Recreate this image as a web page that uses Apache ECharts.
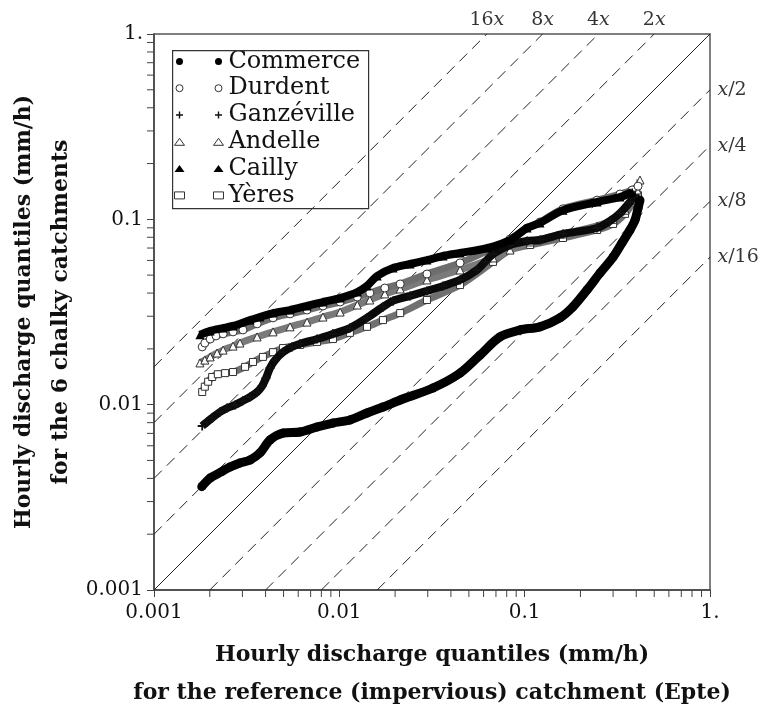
<!DOCTYPE html>
<html><head><meta charset="utf-8">
<script src="https://cdn.jsdelivr.net/npm/echarts@6/dist/echarts.min.js"></script>
<style>html,body{margin:0;padding:0;background:#fff}#main{width:762px;height:711px}</style>
</head><body><div id="main"></div>
<script>
// ---- data (x = Epte quantile, y = chalky catchment quantile, mm/h) ----
const commerce = [[0.00181,0.00361],[0.00201,0.00402],[0.00232,0.00435],[0.00257,0.00461],[0.00291,0.00485],[0.00330,0.00503],[0.00373,0.00549],[0.00423,0.00645],[0.00497,0.00703],[0.00614,0.00712],[0.00758,0.00758],[0.00924,0.00796],[0.0114,0.00827],[0.0141,0.00902],[0.0172,0.00971],[0.0213,0.0106],[0.0320,0.0123],[0.0448,0.0148],[0.0574,0.0185],[0.0736,0.0232],[0.0944,0.0253],[0.121,0.0263],[0.155,0.0294],[0.182,0.0337],[0.217,0.0416],[0.255,0.0513],[0.300,0.0626],[0.335,0.0746],[0.370,0.0876],[0.394,0.0992],[0.409,0.115],[0.419,0.127]];
const durdent = [[0.00182,0.0205],[0.00188,0.0215],[0.00201,0.0226],[0.00216,0.0235],[0.00236,0.0241],[0.00267,0.0247],[0.00302,0.0253],[0.00360,0.0273],[0.00439,0.0294],[0.00542,0.0309],[0.00669,0.0324],[0.00816,0.0341],[0.0101,0.0358],[0.0125,0.0381],[0.0146,0.0401],[0.0176,0.0426],[0.0213,0.0448],[0.0297,0.0507],[0.0448,0.0582],[0.0675,0.0700],[0.0834,0.0783],[0.103,0.0898],[0.121,0.0967],[0.161,0.114],[0.246,0.127],[0.327,0.137],[0.380,0.144],[0.409,0.151]];
const ganzeville = [[0.00182,0.00767],[0.00193,0.00806],[0.00206,0.00848],[0.00227,0.00913],[0.00248,0.00959],[0.00274,0.00996],[0.00302,0.0105],[0.00330,0.0110],[0.00360,0.0117],[0.00383,0.0126],[0.00402,0.0139],[0.00423,0.0158],[0.00450,0.0174],[0.00497,0.0192],[0.00555,0.0205],[0.00614,0.0213],[0.00758,0.0226],[0.00924,0.0241],[0.0114,0.0259],[0.0141,0.0294],[0.0172,0.0337],[0.0195,0.0363],[0.0241,0.0386],[0.0297,0.0411],[0.0363,0.0437],[0.0448,0.0471],[0.0553,0.0533],[0.0611,0.0589],[0.0675,0.0650],[0.0834,0.0727],[0.103,0.0764],[0.121,0.0774],[0.161,0.0834],[0.246,0.0898],[0.289,0.0980],[0.327,0.108],[0.370,0.124],[0.394,0.135]];
const andelle = [[0.00177,0.0168],[0.00188,0.0174],[0.00201,0.0181],[0.00219,0.0190],[0.00236,0.0197],[0.00267,0.0207],[0.00291,0.0215],[0.00360,0.0232],[0.00439,0.0247],[0.00542,0.0263],[0.00669,0.0279],[0.00816,0.0297],[0.0101,0.0316],[0.0125,0.0345],[0.0146,0.0367],[0.0176,0.0396],[0.0213,0.0421],[0.0297,0.0471],[0.0448,0.0533],[0.0675,0.0619],[0.0834,0.0683],[0.107,0.0755],[0.161,0.0834],[0.246,0.0921],[0.300,0.100],[0.348,0.112],[0.384,0.127],[0.404,0.144],[0.419,0.163]];
const cailly = [[0.00177,0.0238],[0.00201,0.0250],[0.00236,0.0259],[0.00267,0.0266],[0.00330,0.0286],[0.00373,0.0297],[0.00439,0.0312],[0.00542,0.0324],[0.00669,0.0341],[0.00816,0.0358],[0.0101,0.0376],[0.0125,0.0405],[0.0141,0.0437],[0.0160,0.0495],[0.0195,0.0546],[0.0241,0.0574],[0.0297,0.0603],[0.0363,0.0634],[0.0448,0.0658],[0.0626,0.0700],[0.0834,0.0774],[0.103,0.0898],[0.121,0.0956],[0.161,0.112],[0.246,0.124],[0.327,0.132],[0.380,0.140]];
const yeres = [[0.00182,0.0117],[0.00188,0.0125],[0.00196,0.0133],[0.00206,0.0141],[0.00221,0.0146],[0.00242,0.0148],[0.00267,0.0150],[0.00310,0.0160],[0.00342,0.0170],[0.00387,0.0181],[0.00439,0.0192],[0.00497,0.0202],[0.00614,0.0210],[0.00758,0.0218],[0.00924,0.0226],[0.0114,0.0244],[0.0141,0.0263],[0.0172,0.0286],[0.0213,0.0312],[0.0297,0.0367],[0.0448,0.0442],[0.0675,0.0589],[0.0834,0.0683],[0.107,0.0727],[0.161,0.0793],[0.246,0.0876],[0.300,0.0944],[0.348,0.107],[0.384,0.123],[0.409,0.135]];

const seriesNames = ['Commerce', 'Durdent', 'Ganzéville', 'Andelle', 'Cailly', 'Yères'];
const refRatios = [2, 4, 8, 16];
const majorTickValues = [0.001, 0.01, 0.1, 1];
const majorTickLabels = ['0.001', '0.01', '0.1', '1.'];
const minorTickValues = [0.002,0.003,0.004,0.005,0.006,0.007,0.008,0.009,0.02,0.03,0.04,0.05,0.06,0.07,0.08,0.09,0.2,0.3,0.4,0.5,0.6,0.7,0.8,0.9];
const xTitle = 'Hourly discharge quantiles (mm/h)\nfor the reference (impervious) catchment (Epte)';
const yTitle = 'Hourly discharge quantiles (mm/h)\nfor the 6 chalky catchments';

// ---- styling ----
const FONT = 'DejaVu Serif';
const AXMIN = 0.001, AXMAX = 1;
const PLUS = 'path://M4,0h2v4h4v2h-4v4h-2v-4h-4v-2h4z';
const styleMap = {
  'Commerce':   {data: commerce,   symbol: 'circle',   size: 9, line: '#000', width: 9, fill: '#000', border: '#000', z: 6},
  'Durdent':    {data: durdent,    symbol: 'circle',   size: 8, line: '#6e6e6e', width: 7, fill: '#fff', border: '#333', z: 3},
  'Ganzéville': {data: ganzeville, symbol: PLUS,       size: 9, line: '#0a0a0a', width: 8, fill: '#111', border: '#111', z: 4},
  'Andelle':    {data: andelle,    symbol: 'triangle', size: 8, line: '#7a7a7a', width: 7, fill: '#fff', border: '#333', z: 2},
  'Cailly':     {data: cailly,     symbol: 'triangle', size: 9, line: '#000', width: 8, fill: '#000', border: '#000', z: 5},
  'Yères':      {data: yeres,      symbol: 'rect',     size: 7, line: '#707070', width: 7, fill: '#fff', border: '#333', z: 1}
};

function tickLabel(v) {
  const lg = Math.round(Math.log10(v));
  const i = majorTickValues.findIndex(t => Math.round(Math.log10(t)) === lg);
  return i >= 0 ? majorTickLabels[i] : '';
}

const seriesList = [];
seriesList.push({type: 'line', name: '1:1', data: [[AXMIN, AXMIN], [AXMAX, AXMAX]], symbol: 'none', silent: true,
  lineStyle: {color: '#222', width: 1}, z: 0});
refRatios.forEach(k => {
  seriesList.push({type: 'line', data: [[AXMIN, AXMIN * k], [AXMAX / k, AXMAX]], symbol: 'none', silent: true,
    lineStyle: {color: '#222', width: 1, type: [11, 7]}, z: 0});
  seriesList.push({type: 'line', data: [[AXMIN * k, AXMIN], [AXMAX, AXMAX / k]], symbol: 'none', silent: true,
    lineStyle: {color: '#222', width: 1, type: [11, 7]}, z: 0});
});
const richText = {
  n: {fontFamily: FONT, fontSize: 19, color: '#000'},
  i: {fontFamily: FONT, fontSize: 19, fontStyle: 'italic', color: '#000'}
};
seriesList.push({type: 'scatter', silent: true, symbol: 'circle', symbolSize: 1, itemStyle: {color: 'rgba(0,0,0,0)'},
  data: refRatios.map(k => ({value: [AXMAX / k, AXMAX], label: {show: true, position: 'top', distance: 4,
    formatter: '{n|' + k + '}{i|x}', rich: richText}})), z: 1});
seriesList.push({type: 'scatter', silent: true, symbol: 'circle', symbolSize: 1, itemStyle: {color: 'rgba(0,0,0,0)'},
  data: refRatios.map(k => ({value: [AXMAX, AXMAX / k], label: {show: true, position: 'right', distance: 7,
    formatter: '{i|x}{n|/' + k + '}', rich: richText}})), z: 1});

seriesNames.forEach(name => {
  const s = styleMap[name];
  seriesList.push({type: 'line', name: name, data: s.data, smooth: 0.3, symbol: s.symbol, symbolSize: s.size,
    showSymbol: true, showAllSymbol: true,
    lineStyle: {color: s.line, width: s.width},
    itemStyle: {color: s.fill, borderColor: s.border, borderWidth: s.fill === '#fff' ? 1 : 0},
    z: 2 + s.z});
});

seriesList.push({type: 'custom', silent: true, clip: false, z: 10,
  data: minorTickValues.map(v => [v, v]),
  encode: {x: 0, y: 1},
  renderItem: function (params, api) {
    const v = api.value(0);
    const px = api.coord([v, AXMIN]);
    const py = api.coord([AXMIN, v]);
    return {type: 'group', children: [
      {type: 'line', shape: {x1: px[0], y1: px[1], x2: px[0], y2: px[1] + 7}, style: {stroke: '#444', lineWidth: 1}},
      {type: 'line', shape: {x1: py[0] - 7, y1: py[1], x2: py[0], y2: py[1]}, style: {stroke: '#444', lineWidth: 1}}
    ]};
  }
});

function legendData() {
  return seriesNames.map(name => {
    const s = styleMap[name];
    return {name: name, icon: s.symbol,
      itemStyle: {color: s.fill, borderColor: s.border, borderWidth: s.fill === '#fff' ? 1 : 0}};
  });
}
const legendCommon = {orient: 'vertical', selectedMode: false, padding: 0, itemGap: 0,
  itemWidth: 10, itemHeight: 7, lineStyle: {opacity: 0}, inactiveColor: '#000'};

const chartOption = {
  backgroundColor: '#fff',
  animation: false,
  grid: {left: 154, top: 34, width: 556, height: 556, show: true, borderColor: '#555', borderWidth: 1.5,
    containLabel: false, outerBoundsMode: 'none'},
  xAxis: {type: 'log', logBase: 10, min: AXMIN, max: AXMAX,
    axisLine: {show: true, lineStyle: {color: '#444', width: 1.5}},
    axisTick: {show: true, inside: false, length: 7, lineStyle: {color: '#444'}},
    splitLine: {show: false},
    axisLabel: {fontFamily: FONT, fontSize: 20, color: '#111', margin: 13, formatter: tickLabel},
    name: xTitle, nameLocation: 'middle', nameGap: 46, nameMoveOverlap: false,
    nameTextStyle: {fontFamily: FONT, fontWeight: 'bold', fontSize: 22, color: '#111', lineHeight: 38}
  },
  yAxis: {type: 'log', logBase: 10, min: AXMIN, max: AXMAX,
    axisLine: {show: true, lineStyle: {color: '#444', width: 1.5}},
    axisTick: {show: true, inside: false, length: 7, lineStyle: {color: '#444'}},
    splitLine: {show: false},
    axisLabel: {fontFamily: FONT, fontSize: 20, color: '#111', margin: 11, formatter: tickLabel},
    name: yTitle, nameLocation: 'middle', nameGap: 74, nameRotate: 90, nameMoveOverlap: false,
    nameTextStyle: {fontFamily: FONT, fontWeight: 'bold', fontSize: 22, color: '#111', lineHeight: 37}
  },
  legend: [
    Object.assign({}, legendCommon, {left: 174, top: 48, data: legendData(),
      textStyle: {fontFamily: FONT, fontSize: 24, color: 'rgba(0,0,0,0)', lineHeight: 26.8}}),
    Object.assign({}, legendCommon, {left: 213, top: 48, data: legendData(),
      textStyle: {fontFamily: FONT, fontSize: 24, color: '#111', lineHeight: 26.8}})
  ],
  graphic: [{type: 'rect', left: 172, top: 50, shape: {width: 196, height: 158},
    style: {fill: 'rgba(0,0,0,0)', stroke: '#333', lineWidth: 1.2}, z: 100}],
  series: seriesList
};
const myChart = echarts.init(document.getElementById('main'));
myChart.setOption(chartOption);
</script></body></html>
